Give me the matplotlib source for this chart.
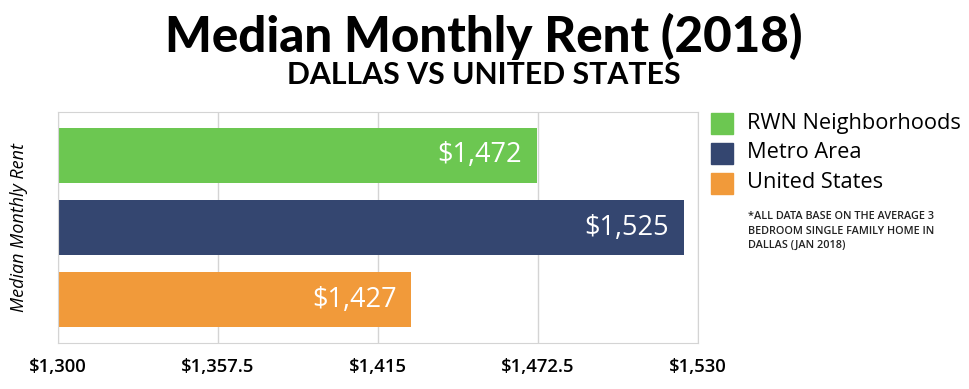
import matplotlib.pyplot as plt
from matplotlib.patches import Rectangle

# Datos del gráfico
categorias = ['RWN Neighborhoods', 'Metro Area', 'United States']
rentas = [1472, 1525, 1427]
colores = ['#6cc751', '#344670', '#f19a3a']
ticks = [1300, 1357.5, 1415, 1472.5, 1530]
tick_labels = ['$1,300', '$1,357.5', '$1,415', '$1,472.5', '$1,530']

plt.rcParams['font.family'] = ['Open Sans', 'DejaVu Sans']

fig = plt.figure(figsize=(9.69, 3.89), dpi=100)
ax = fig.add_axes([0.0599, 0.1183, 0.6604, 0.5937])

y = list(range(len(categorias)))
ax.barh(y, [r - 1300 for r in rentas], left=1300, height=0.77, color=colores, zorder=2)
for yi, r in zip(y, rentas):
    ax.text(r - 5.3, yi, f'${r:,}', color='white', fontsize=19.5, ha='right', va='center', zorder=3)

ax.set_xlim(1300, 1530)
ax.set_ylim(2.6, -0.6)
ax.set_xticks(ticks)
ax.set_xticklabels(tick_labels, fontsize=13.3, fontweight='semibold')
ax.set_yticks([])
ax.tick_params(axis='x', length=0, pad=11)
ax.grid(axis='x', color='#d4d4d4', linewidth=1, zorder=0)
for s in ax.spines.values():
    s.set_color('#d4d4d4')
ax.set_ylabel('Median Monthly Rent', fontsize=13, style='italic')
ax.yaxis.set_label_coords(-0.047, 0.5)

# Títulos
fig.text(0.4995, 1 - 52 / 389, 'Median Monthly Rent (2018)', fontsize=35.5, fontweight='black',
         family=['Lato', 'DejaVu Sans'], ha='center', va='baseline')
fig.text(0.4995, 1 - 84 / 389, 'DALLAS VS UNITED STATES', fontsize=21.8, fontweight='bold',
         family=['Lato', 'DejaVu Sans'], ha='center', va='baseline')

# Leyenda
for i, (cat, c) in enumerate(zip(categorias, colores)):
    yc = 1 - (123 + i * 30) / 389
    fig.patches.append(Rectangle((711 / 969, yc - 10.5 / 389), 22 / 969, 21 / 389,
                                 transform=fig.transFigure, color=c))
    fig.text(747 / 969, yc, cat, fontsize=15.7, fontweight='medium', va='center', ha='left')

fig.text(748 / 969, 1 - 211 / 389,
         '*ALL DATA BASE ON THE AVERAGE 3\nBEDROOM SINGLE FAMILY HOME IN\nDALLAS (JAN 2018)',
         fontsize=7.8, fontweight='semibold', va='top', ha='left', linespacing=1.45, color='#222222')

fig.savefig('out.png', dpi=100)
